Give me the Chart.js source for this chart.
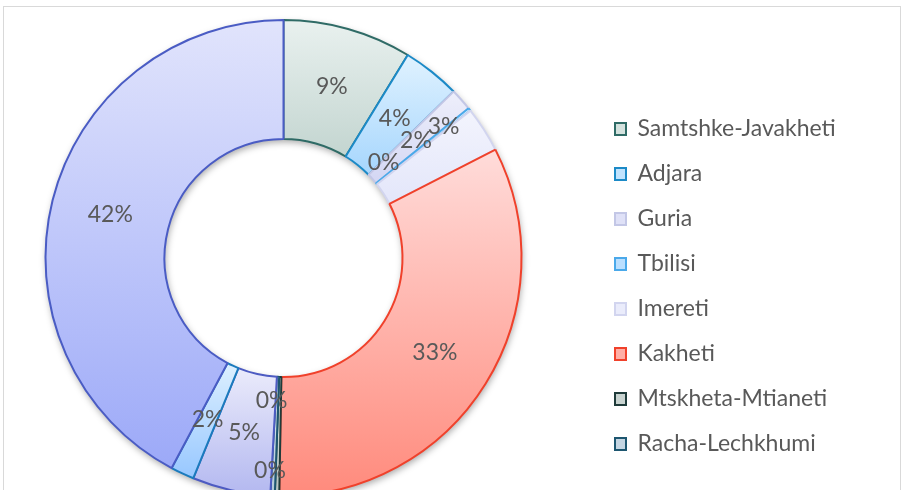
<!DOCTYPE html>
<html>
<head>
<meta charset="utf-8">
<title>Regions share</title>
<script src="https://cdn.jsdelivr.net/npm/chart.js@4.4.1/dist/chart.umd.min.js"></script>
<style>
    html, body { margin: 0; padding: 0; background: #fff; overflow: hidden; }
    body { width: 902px; height: 490px; position: relative; }
    #frame { position: absolute; left: 3px; top: 6px; width: 896px; height: 600px; border: 1px solid #d9d9d9; }
    #chart { position: absolute; left: -27px; top: -130px; }
</style>
</head>
<body>
<div id="frame"></div>
<canvas id="chart" width="929" height="776"></canvas>
<script>
(function() {
    'use strict';

    // data, clockwise from 12 o'clock
    const regions = [
        'Samtshke-Javakheti', 'Adjara', 'Guria', 'Tbilisi', 'Imereti', 'Kakheti',
        'Mtskheta-Mtianeti', 'Racha-Lechkhumi', 'Samegrelo-Zemo Svaneti', 'Shida Kartli', 'Kvemo Kartli'
    ];
    const shares = [8.74, 3.93, 1.5, 0.2, 3.1, 32.8, 0.3, 0.3, 5.3, 1.6, 42.2];

    // the reference legend only has room for the first eight entries
    const LEGEND_ROWS = 8;

    // colours (gradient top / bottom, outline)
    const fillTop = ['#e9f1ef', '#e0f2ff', '#eeeffb', '#def1ff', '#f3f4fd', '#ffdcda',
                     '#dfe6e4', '#dfe9f1', '#ebebfb', '#ddf0ff', '#e1e4fc'];
    const fillBottom = ['#c3d5d0', '#a6d6fd', '#d3d6f3', '#9dd1ff', '#e3e6fa', '#ff8a7c',
                        '#b5c3bf', '#b0c7d8', '#b3b8f0', '#97c7ff', '#9ca9f8'];
    const borderColors = ['#2f6b66', '#1c8ac7', '#c3c7e6', '#4aa9ea', '#d2d5ef', '#f0412b',
                          '#1f3b3a', '#1d5670', '#4d5bc2', '#1b7bbd', '#4a5cc4'];

    // label placement: position across the ring (0 inner .. 1 outer), turn in degrees
    const labelRingPos = [0.5, 0.5, 0.49, 0.16, 0.74, 0.5, 0.2, 0.79, 0.5, 0.5, 0.5];
    const labelTurn = [0, 0, 0, -4.9, -6.7, 0, 3.2, 1, 0, 0, 0];

    const OUTER_RADIUS = 238;
    const TEXT_COLOR = '#595959';
    const FONT_FAMILY = "Lato, 'Open Sans', sans-serif";
    const LEGEND_FONT = 23;
    const LEGEND_PAD = 22;
    const LEGEND_BOX = 11;
    const PLOT_RIGHT = 620;   // canvas x where the legend column begins

    Chart.defaults.font.family = FONT_FAMILY;

    const total = shares.reduce((a, b) => a + b, 0);

    // legend width, so the right padding puts the legend where the reference has it
    const probe = document.createElement('canvas').getContext('2d');
    probe.font = LEGEND_FONT + 'px ' + FONT_FAMILY;
    const longest = Math.max(...regions.slice(0, LEGEND_ROWS).map(t => probe.measureText(t).width));
    const legendWidth = LEGEND_PAD + LEGEND_BOX + LEGEND_FONT / 2 + longest + 10;
    const canvasWidth = document.getElementById('chart').width;
    const rightPad = Math.max(canvasWidth - PLOT_RIGHT - legendWidth, 0);

    function mixHex(c1, c2, t) {
        const a = [1, 3, 5].map(k => parseInt(c1.slice(k, k + 2), 16));
        const b = [1, 3, 5].map(k => parseInt(c2.slice(k, k + 2), 16));
        return 'rgb(' + a.map((v, k) => Math.round(v + (b[k] - v) * t)).join(',') + ')';
    }

    // vertical gradient over each slice's own bounding box
    function sliceGradient(context) {
        const chart = context.chart;
        const area = chart.chartArea;
        const i = context.dataIndex;
        if (!area) return fillBottom[i];
        const cy = (area.top + area.bottom) / 2;
        const before = shares.slice(0, i).reduce((a, b) => a + b, 0);
        const a0 = -Math.PI / 2 + 2 * Math.PI * before / total;
        const a1 = a0 + 2 * Math.PI * shares[i] / total;
        const rOut = OUTER_RADIUS, rIn = OUTER_RADIUS * 0.5;
        const ys = [a0, a1].flatMap(a => [cy + rIn * Math.sin(a), cy + rOut * Math.sin(a)]);
        if (a0 <= Math.PI / 2 && a1 >= Math.PI / 2) ys.push(cy + rOut);
        if (a1 >= 1.5 * Math.PI - 1e-9) ys.push(cy - rOut);
        const y0 = Math.min(...ys), y1 = Math.max(...ys);
        const g = chart.ctx.createLinearGradient(0, y0, 0, Math.max(y1, y0 + 1));
        g.addColorStop(0, fillTop[i]);
        g.addColorStop(1, fillBottom[i]);
        return g;
    }

    const ringShadow = {
        id: 'ringShadow',
        beforeDatasetsDraw(chart) {
            const arc = chart.getDatasetMeta(0).data[0];
            if (!arc) return;
            const ctx = chart.ctx;
            ctx.save();
            ctx.shadowColor = 'rgba(0, 0, 0, 0.35)';
            ctx.shadowBlur = 7;
            ctx.shadowOffsetX = 1;
            ctx.shadowOffsetY = 3;
            ctx.fillStyle = '#fff';
            ctx.beginPath();
            ctx.arc(arc.x, arc.y, arc.outerRadius, 0, Math.PI * 2);
            ctx.arc(arc.x, arc.y, arc.innerRadius, 0, Math.PI * 2, true);
            ctx.fill();
            ctx.restore();
        }
    };

    const sliceLabels = {
        id: 'sliceLabels',
        afterDatasetsDraw(chart) {
            const ctx = chart.ctx;
            ctx.save();
            ctx.font = '23px ' + FONT_FAMILY;
            ctx.fillStyle = TEXT_COLOR;
            ctx.textAlign = 'center';
            ctx.textBaseline = 'middle';
            chart.getDatasetMeta(0).data.forEach((arc, i) => {
                const mid = (arc.startAngle + arc.endAngle) / 2 + labelTurn[i] * Math.PI / 180;
                const r = arc.innerRadius + labelRingPos[i] * (arc.outerRadius - arc.innerRadius);
                const text = Math.round(shares[i] / total * 100) + '%';
                ctx.fillText(text, arc.x + r * Math.cos(mid), arc.y + r * Math.sin(mid));
            });
            ctx.restore();
        }
    };

    new Chart(document.getElementById('chart'), {
        type: 'doughnut',
        data: {
            labels: regions,
            datasets: [{
                data: shares,
                backgroundColor: sliceGradient,
                borderColor: borderColors,
                borderWidth: 2
            }]
        },
        options: {
            responsive: false,
            animation: false,
            events: [],
            radius: OUTER_RADIUS,
            cutout: '50%',
            layout: {
                padding: { left: 1, top: 0, bottom: 0, right: rightPad }
            },
            plugins: {
                legend: {
                    position: 'right',
                    align: 'start',
                    title: {
                        display: true,
                        text: ' ',
                        font: { size: 10, lineHeight: 1 },
                        padding: { top: 215.5, bottom: 0 }
                    },
                    labels: {
                        boxWidth: LEGEND_BOX,
                        boxHeight: 12,
                        padding: LEGEND_PAD,
                        color: TEXT_COLOR,
                        font: { size: LEGEND_FONT },
                        filter: (item) => item.index < LEGEND_ROWS,
                        generateLabels: (chart) => chart.data.labels.map((text, i) => ({
                            text: text,
                            fillStyle: mixHex(fillTop[i], fillBottom[i], 0.55),
                            strokeStyle: borderColors[i],
                            lineWidth: 2,
                            fontColor: TEXT_COLOR,
                            hidden: false,
                            index: i
                        }))
                    }
                },
                tooltip: { enabled: false }
            }
        },
        plugins: [ringShadow, sliceLabels]
    });
})();
</script>
</body>
</html>
